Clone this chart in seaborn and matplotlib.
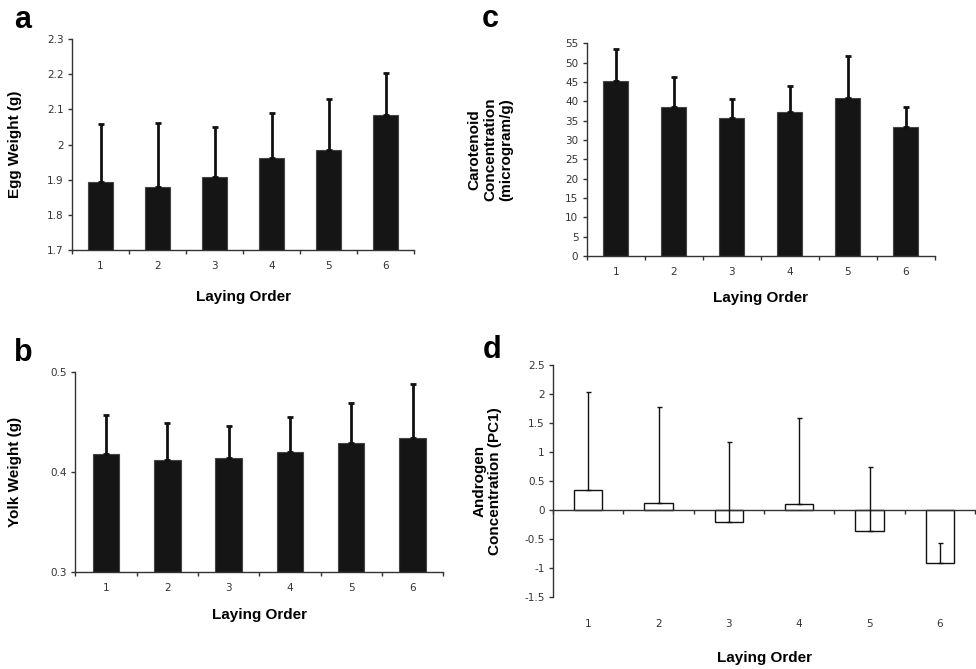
import numpy as np
import matplotlib
matplotlib.use('Agg')
import matplotlib.pyplot as plt
from matplotlib.ticker import FixedLocator, FuncFormatter, MultipleLocator
import seaborn as sns

laying_order = ['1', '2', '3', '4', '5', '6']

egg_weight = [1.892, 1.879, 1.908, 1.962, 1.984, 2.085]
egg_weight_se = [0.165, 0.181, 0.141, 0.129, 0.145, 0.118]

yolk_weight = [0.418, 0.412, 0.414, 0.420, 0.429, 0.434]
yolk_weight_se = [0.039, 0.037, 0.032, 0.035, 0.040, 0.054]

carotenoid = [45.3, 38.5, 35.6, 37.2, 40.9, 33.3]
carotenoid_se = [8.2, 7.7, 5.1, 6.8, 10.8, 5.1]

androgen_pc1 = [0.345, 0.13, -0.195, 0.10, -0.35, -0.91]
androgen_pc1_se = [1.695, 1.64, 1.375, 1.49, 1.09, 0.34]

sns.set_style('ticks')
plt.rcParams['font.family'] = ['DejaVu Sans']

LABEL_FONT = dict(family='Liberation Sans', weight='bold', size=11, color='black')
AXIS_COLOR = '#333333'

fig = plt.figure(figsize=(9.76, 6.69), dpi=100)


def bar_panel(rect, means, se, ylim, step, ylabel, ylabel_x, xlabel_y,
              fill='#151515', edge='#444444', err_lw=2.0, cap=2.5, width=0.43):
    ax = fig.add_axes(rect)
    sns.barplot(x=laying_order, y=means, color=fill, edgecolor=edge, linewidth=0.8,
                width=width, saturation=1, errorbar=None, ax=ax, zorder=2)
    ax.errorbar(range(len(laying_order)), means, yerr=[np.zeros(len(se)), se],
                fmt='none', ecolor='#111111', elinewidth=err_lw, capsize=cap,
                capthick=err_lw, zorder=3)
    ax.set_xlim(-0.5, len(laying_order) - 0.5)
    ax.set_ylim(*ylim)
    ax.yaxis.set_major_locator(MultipleLocator(step))
    ax.yaxis.set_major_formatter(FuncFormatter(lambda v, p: f'{round(v, 3):g}'))
    ax.xaxis.set_minor_locator(FixedLocator(np.arange(-0.5, len(laying_order), 1)))
    sns.despine(ax=ax)
    for s in ['left', 'bottom']:
        ax.spines[s].set_color(AXIS_COLOR)
        ax.spines[s].set_linewidth(1.0)
    ax.tick_params(axis='x', which='major', length=0, pad=8, labelsize=7.5, labelcolor=AXIS_COLOR)
    ax.tick_params(axis='x', which='minor', length=3, width=1, color=AXIS_COLOR, direction='out')
    ax.tick_params(axis='y', which='major', length=3, width=1, color=AXIS_COLOR, pad=3,
                   labelsize=7.5, labelcolor=AXIS_COLOR)
    ax.set_xlabel('Laying Order', fontdict=LABEL_FONT)
    ax.xaxis.set_label_coords(0.5, xlabel_y)
    ax.set_ylabel(ylabel, fontdict=LABEL_FONT, linespacing=1.15)
    ax.yaxis.set_label_coords(ylabel_x, 0.5)
    return ax


bar_panel([0.0738, 0.6263, 0.3504, 0.3154], egg_weight, egg_weight_se, (1.7, 2.3), 0.1,
          'Egg Weight (g)', -0.146, -0.19)
bar_panel([0.0772, 0.1455, 0.3770, 0.2989], yolk_weight, yolk_weight_se, (0.3, 0.5), 0.1,
          'Yolk Weight (g)', -0.146, -0.18)
bar_panel([0.6011, 0.6173, 0.3569, 0.3180], carotenoid, carotenoid_se, (0, 55), 5,
          'Carotenoid\nConcentration\n(microgram/g)', -0.212, -0.165)
ax_d = bar_panel([0.5666, 0.1072, 0.4324, 0.3472], androgen_pc1, androgen_pc1_se, (-1.5, 2.5), 0.5,
                 'Androgen\nConcentration (PC1)', -0.121, -0.231,
                 fill='white', edge='#111111', err_lw=1.0, cap=1.8, width=0.40)
for p in ax_d.patches:
    p.set_linewidth(1.0)
ax_d.spines['bottom'].set_position(('data', 0))
ax_d.tick_params(axis='x', which='major', pad=78)

for letter, x, y in [('a', 14, 28), ('b', 14, 361), ('c', 482, 27), ('d', 483, 358)]:
    fig.text(x / 976, 1 - y / 669, letter, family='Liberation Sans', weight='bold',
             size=22, va='baseline', ha='left', color='black')

fig.savefig('out.png', dpi=100)
